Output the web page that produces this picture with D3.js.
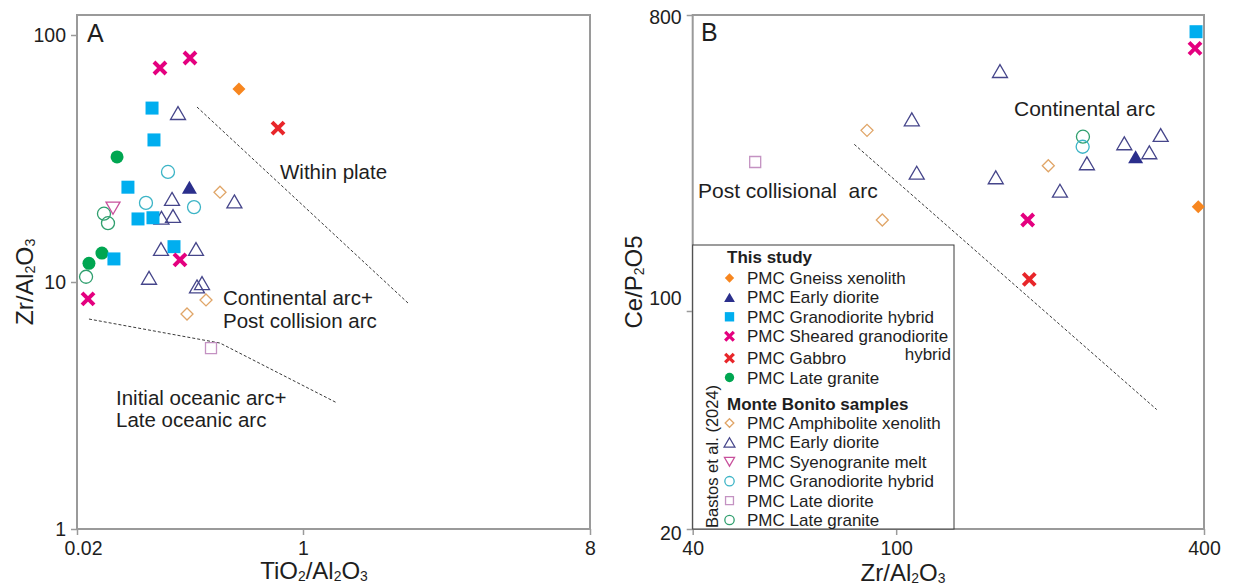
<!DOCTYPE html>
<html>
<head>
<meta charset="utf-8">
<script src="https://cdn.jsdelivr.net/npm/d3@7"></script>
<style>
  html, body { margin: 0; padding: 0; background: #ffffff; }
  svg { display: block; font-family: "Liberation Sans", Arial, Helvetica, sans-serif; }
</style>
</head>
<body>
<svg id="chart" width="1235" height="585"></svg>
<script>
// ---------------------------------------------------------------
// Legend groups
const thisStudyNames = ["PMC Gneiss xenolith", "PMC Early diorite", "PMC Granodiorite hybrid",
                        "PMC Sheared granodiorite", "PMC Gabbro", "PMC Late granite"];
const monteBonitoNames = ["PMC Amphibolite xenolith", "PMC Early diorite", "PMC Syenogranite melt",
                          "PMC Granodiorite hybrid", "PMC Late diorite", "PMC Late granite"];

// Panel A samples: [TiO2/Al2O3, Zr/Al2O3]
const aGneiss        = [[0.330, 60.4]];
const aEarlyDiorite  = [[0.140, 24.2]];
const aGranoHybrid   = [[0.0733, 50.6], [0.0758, 37.6], [0.0483, 24.2], [0.0575, 18.0],
                        [0.0745, 18.2], [0.1072, 13.9], [0.0379, 12.4]];
const aSheared       = [[0.0841, 73.5], [0.1414, 80.7], [0.1189, 12.3], [0.0242, 8.54]];
const aGabbro        = [[0.649, 42.0]];
const aLateGranite   = [[0.0400, 32.1], [0.0308, 13.1], [0.0246, 11.9]];
const aMbAmphibolite = [[0.2377, 23.1], [0.1866, 8.46], [0.1343, 7.42]];
const aMbEarlyDiorite = [[0.1149, 48.3], [0.1036, 21.7], [0.1054, 18.5], [0.0863, 18.2],
                         [0.0856, 13.6], [0.1569, 13.6], [0.0696, 10.4], [0.305, 21.2],
                         [0.1741, 9.9], [0.1596, 9.6]];
const aMbSyenogranite = [[0.0373, 19.9]];
const aMbGranoHybrid  = [[0.0966, 27.9], [0.0660, 20.9], [0.1516, 20.1]];
const aMbLateDiorite  = [[0.2034, 5.40]];
const aMbLateGranite  = [[0.0319, 18.9], [0.0342, 17.3], [0.0234, 10.5]];

// Panel B samples: [Zr/Al2O3, Ce/P2O5]
const bGneiss        = [[389.8, 208.0]];
const bEarlyDiorite  = [[294.0, 295.6]];
const bGranoHybrid   = [[385.9, 711.4]];
const bSheared       = [[384.1, 632.9], [180.8, 189.5]];
const bGabbro        = [[182.1, 124.9]];
const bLateGranite   = [];
const bMbAmphibolite = [[87.7, 355.8], [93.95, 189.5], [198.4, 277.5]];
const bMbEarlyDiorite = [[107.3, 384.4], [109.7, 264.2], [159.6, 539.7], [156.6, 255.8],
                         [209.1, 232.8], [236.1, 282.2], [279.4, 324.8], [329.1, 344.3],
                         [312.7, 304.9]];
const bMbSyenogranite = [];
const bMbGranoHybrid  = [[231.6, 317.1]];
const bMbLateDiorite  = [[53.0, 284.8]];
const bMbLateGranite  = [[231.9, 340.2]];

// Discrimination boundaries
const aWithinPlateLine = [[0.1596, 51.1], [2.140, 8.22]];
const aOceanicArcLine  = [[0.0246, 7.08], [0.2377, 5.66], [1.279, 3.24]];
const bArcLine         = [[82.8, 322.5], [323.3, 48.3]];

// Axis ticks
const aXTicks = [0.02, 1, 8];
const aYTicks = [1, 10, 100];
const bXTicks = [40, 100, 400];
const bYTicks = [20, 100, 800];

// ---------------------------------------------------------------
// Marker styles per series
const styles = {
  gneiss:        { shape: "diamond",  fill: "#f7861f", stroke: "none",    size: 13 },
  earlyDiorite:  { shape: "triangle", fill: "#2b2f8c", stroke: "none",    size: 15 },
  granoHybrid:   { shape: "square",   fill: "#00aeef", stroke: "none",    size: 13 },
  sheared:       { shape: "cross",    fill: "none",    stroke: "#e4007f", size: 12 },
  gabbro:        { shape: "cross",    fill: "none",    stroke: "#e8262a", size: 12 },
  lateGranite:   { shape: "circle",   fill: "#00a651", stroke: "none",    size: 13 },
  mbAmphibolite: { shape: "diamond",  fill: "none",    stroke: "#e0a567", size: 12 },
  mbEarlyDiorite:{ shape: "triangle", fill: "none",    stroke: "#45458a", size: 15 },
  mbSyenogranite:{ shape: "triDown",  fill: "none",    stroke: "#c8509c", size: 14 },
  mbGranoHybrid: { shape: "circle",   fill: "none",    stroke: "#3cb4c6", size: 13 },
  mbLateDiorite: { shape: "square",   fill: "none",    stroke: "#c492c2", size: 11 },
  mbLateGranite: { shape: "circle",   fill: "none",    stroke: "#2f9f6e", size: 13 }
};

const seriesA = [
  ["mbLateDiorite", aMbLateDiorite], ["mbAmphibolite", aMbAmphibolite],
  ["mbLateGranite", aMbLateGranite], ["mbGranoHybrid", aMbGranoHybrid],
  ["mbSyenogranite", aMbSyenogranite], ["mbEarlyDiorite", aMbEarlyDiorite],
  ["lateGranite", aLateGranite], ["granoHybrid", aGranoHybrid],
  ["earlyDiorite", aEarlyDiorite], ["gneiss", aGneiss],
  ["gabbro", aGabbro], ["sheared", aSheared]
];
const seriesB = [
  ["mbLateDiorite", bMbLateDiorite], ["mbAmphibolite", bMbAmphibolite],
  ["mbLateGranite", bMbLateGranite], ["mbGranoHybrid", bMbGranoHybrid],
  ["mbSyenogranite", bMbSyenogranite], ["mbEarlyDiorite", bMbEarlyDiorite],
  ["lateGranite", bLateGranite], ["granoHybrid", bGranoHybrid],
  ["earlyDiorite", bEarlyDiorite], ["gneiss", bGneiss],
  ["gabbro", bGabbro], ["sheared", bSheared]
];

// ---------------------------------------------------------------
const svg = d3.select("#chart");
const FRAME_TOP = 15;
const TEXT = "#1e1e1e";
const FRAME = "#9a9a9a";

// Scales
const xA = d3.scaleLog().domain([0.02, 1, 8]).range([77, 303, 590]);
const yA = d3.scaleLog().domain([1, 100]).range([529, 35]);
const xB = d3.scaleLog().domain([40, 400]).range([692.7, 1204]);
const yB = d3.scaleLog().domain([20, 100, 800]).range([529, 311, 15]);

// Marker path generator
function markerPath(shape, s) {
  const h = s / 2;
  switch (shape) {
    case "square":  return `M${-h},${-h}H${h}V${h}H${-h}Z`;
    case "diamond": return `M0,${-h}L${h},0L0,${h}L${-h},0Z`;
    case "triangle": { const t = s * 0.43; return `M0,${-t}L${h},${t}L${-h},${t}Z`; }
    case "triDown":  { const t = s * 0.43; return `M0,${t}L${h},${-t}L${-h},${-t}Z`; }
    case "circle":  return d3.arc()({ innerRadius: 0, outerRadius: h, startAngle: 0, endAngle: 2 * Math.PI });
    case "cross":   return `M${-h},${-h}L${h},${h}M${h},${-h}L${-h},${h}`;
  }
}

function drawMarker(g, key, x, y, scale) {
  const st = styles[key];
  const k = scale || 1;
  const p = g.append("path")
    .attr("transform", `translate(${x},${y})`)
    .attr("d", markerPath(st.shape, st.size * k));
  if (st.shape === "cross") {
    p.attr("fill", "none").attr("stroke", st.stroke).attr("stroke-width", 4 * (k < 1 ? 0.8 : 1));
  } else if (st.fill !== "none") {
    p.attr("fill", st.fill).attr("stroke", "none");
  } else {
    p.attr("fill", "#ffffff").attr("fill-opacity", 0).attr("stroke", st.stroke).attr("stroke-width", 1.3);
  }
}

// Text with subscripts: parts = [[text, isSub], ...]
function richText(sel, parts) {
  parts.forEach(([t, sub]) => {
    const ts = sel.append("tspan").text(t);
    if (sub) ts.attr("font-size", "0.58em").attr("baseline-shift", "-0.12em");
  });
  return sel;
}

function drawAxes(g, x, y, xTicks, yTicks, yLabelShift) {
  const bottom = y.range()[0];
  const left = x.range()[0];
  const ax = g.append("g").attr("transform", `translate(0,${bottom})`)
    .call(d3.axisBottom(x).tickValues(xTicks).tickFormat(d => String(d)).tickSize(6).tickPadding(6).tickSizeOuter(0));
  const ay = g.append("g").attr("transform", `translate(${left},0)`)
    .call(d3.axisLeft(y).tickValues(yTicks).tickFormat(d => String(d)).tickSize(6).tickPadding(5).tickSizeOuter(0));
  [ax, ay].forEach(a => {
    a.select(".domain").remove();
    a.selectAll(".tick line").attr("stroke", FRAME).attr("stroke-width", 1.5);
    a.selectAll(".tick text").attr("fill", TEXT).attr("font-size", 19.5)
      .attr("font-family", '"Liberation Sans", Arial, sans-serif');
  });
  if (yLabelShift) {
    ay.selectAll(".tick text").attr("dy", d => (yLabelShift[d] || 0) + 6.5);
  }
  return { ax, ay };
}

function drawFrame(g, x, y) {
  const xr = x.range(), yr = y.range();
  const x0 = xr[0], x1 = xr[xr.length - 1];
  const y0 = yr[0];
  g.append("rect")
    .attr("x", x0).attr("y", FRAME_TOP)
    .attr("width", x1 - x0)
    .attr("height", y0 - FRAME_TOP)
    .attr("fill", "none").attr("stroke", FRAME).attr("stroke-width", 2);
}

function drawLine(g, x, y, pts) {
  g.append("path")
    .attr("d", d3.line().x(d => x(d[0])).y(d => y(d[1]))(pts))
    .attr("fill", "none").attr("stroke", "#3a3a3a").attr("stroke-width", 1)
    .attr("stroke-dasharray", "3,2");
}

function zoneText(g, x, y, str, size) {
  return g.append("text").attr("x", x).attr("y", y).attr("fill", TEXT)
    .attr("font-size", size || 20.5).text(str);
}

// ================= Panel A =================
const gA = svg.append("g");
drawFrame(gA, xA, yA);
const axesA = drawAxes(gA, xA, yA, aXTicks, aYTicks);
axesA.ax.selectAll(".tick text").attr("dx", d => d === 0.02 ? 6 : 0);

drawLine(gA, xA, yA, aWithinPlateLine);
drawLine(gA, xA, yA, aOceanicArcLine);

seriesA.forEach(([key, pts]) => pts.forEach(d => drawMarker(gA, key, xA(d[0]), yA(d[1]))));

gA.append("text").attr("x", 87).attr("y", 42).attr("font-size", 25).attr("fill", TEXT).text("A");
zoneText(gA, 280, 179, "Within plate");
zoneText(gA, 223, 305, "Continental arc+");
zoneText(gA, 223, 328, "Post collision arc");
zoneText(gA, 116, 405, "Initial oceanic arc+");
zoneText(gA, 116, 427, "Late oceanic arc");

richText(gA.append("text").attr("x", 314).attr("y", 579).attr("text-anchor", "middle")
  .attr("font-size", 24).attr("fill", TEXT),
  [["TiO", false], ["2", true], ["/Al", false], ["2", true], ["O", false], ["3", true]]);
richText(gA.append("text").attr("transform", "translate(33,282) rotate(-90)").attr("text-anchor", "middle")
  .attr("font-size", 24.5).attr("fill", TEXT),
  [["Zr/Al", false], ["2", true], ["O", false], ["3", true]]);

// ================= Panel B =================
const gB = svg.append("g");
drawFrame(gB, xB, yB);
drawAxes(gB, xB, yB, bXTicks, bYTicks, { 100: -13, 800: 2, 20: 4 });

drawLine(gB, xB, yB, bArcLine);

// Legend box
const LX0 = xB.range()[0], LX1 = 954, LY0 = 245, LY1 = yB.range()[0];
gB.append("rect").attr("x", LX0).attr("y", LY0).attr("width", LX1 - LX0).attr("height", LY1 - LY0)
  .attr("fill", "#ffffff").attr("stroke", "#3a3a3a").attr("stroke-width", 1);

seriesB.forEach(([key, pts]) => pts.forEach(d => drawMarker(gB, key, xB(d[0]), yB(d[1]))));

gB.append("text").attr("x", 701).attr("y", 41).attr("font-size", 25).attr("fill", TEXT).text("B");
zoneText(gB, 1014, 116, "Continental arc", 21);
zoneText(gB, 698, 198, "Post collisional  arc", 21).attr("xml:space", "preserve").style("white-space", "pre");

richText(gB.append("text").attr("x", 903).attr("y", 581).attr("text-anchor", "middle")
  .attr("font-size", 24).attr("fill", TEXT),
  [["Zr/Al", false], ["2", true], ["O", false], ["3", true]]);
richText(gB.append("text").attr("transform", "translate(642,282) rotate(-90)").attr("text-anchor", "middle")
  .attr("font-size", 24).attr("fill", TEXT),
  [["Ce/P", false], ["2", true], ["O5", false]]);

// Legend content
const legend = gB.append("g").attr("font-size", 17).attr("fill", TEXT);
const MX = 729.5, TX = 747;
legend.append("text").attr("x", 727).attr("y", 263).attr("font-weight", "bold").text("This study");
const thisKeys = ["gneiss", "earlyDiorite", "granoHybrid", "sheared", "gabbro", "lateGranite"];
thisKeys.forEach((key, i) => {
  const yb = 284 + i * 19.4 + (i >= 4 ? 2.5 : 0);
  drawMarker(legend, key, MX, yb - 6, 0.72);
  legend.append("text").attr("x", TX).attr("y", yb).text(thisStudyNames[i]);
});
// second line of the wrapped "Sheared granodiorite hybrid" entry
legend.append("text").attr("x", 951).attr("y", 360).attr("text-anchor", "end").text("hybrid");

legend.append("text").attr("x", 727).attr("y", 410).attr("font-weight", "bold").text("Monte Bonito samples");
const mbKeys = ["mbAmphibolite", "mbEarlyDiorite", "mbSyenogranite", "mbGranoHybrid", "mbLateDiorite", "mbLateGranite"];
mbKeys.forEach((key, i) => {
  const yb = 429 + i * 19.4;
  drawMarker(legend, key, MX, yb - 6, 0.72);
  legend.append("text").attr("x", TX).attr("y", yb).text(monteBonitoNames[i]);
});
legend.append("text").attr("transform", "translate(718,528) rotate(-90)")
  .attr("font-size", 16.5).text("Bastos et al. (2024)");
</script>
</body>
</html>
